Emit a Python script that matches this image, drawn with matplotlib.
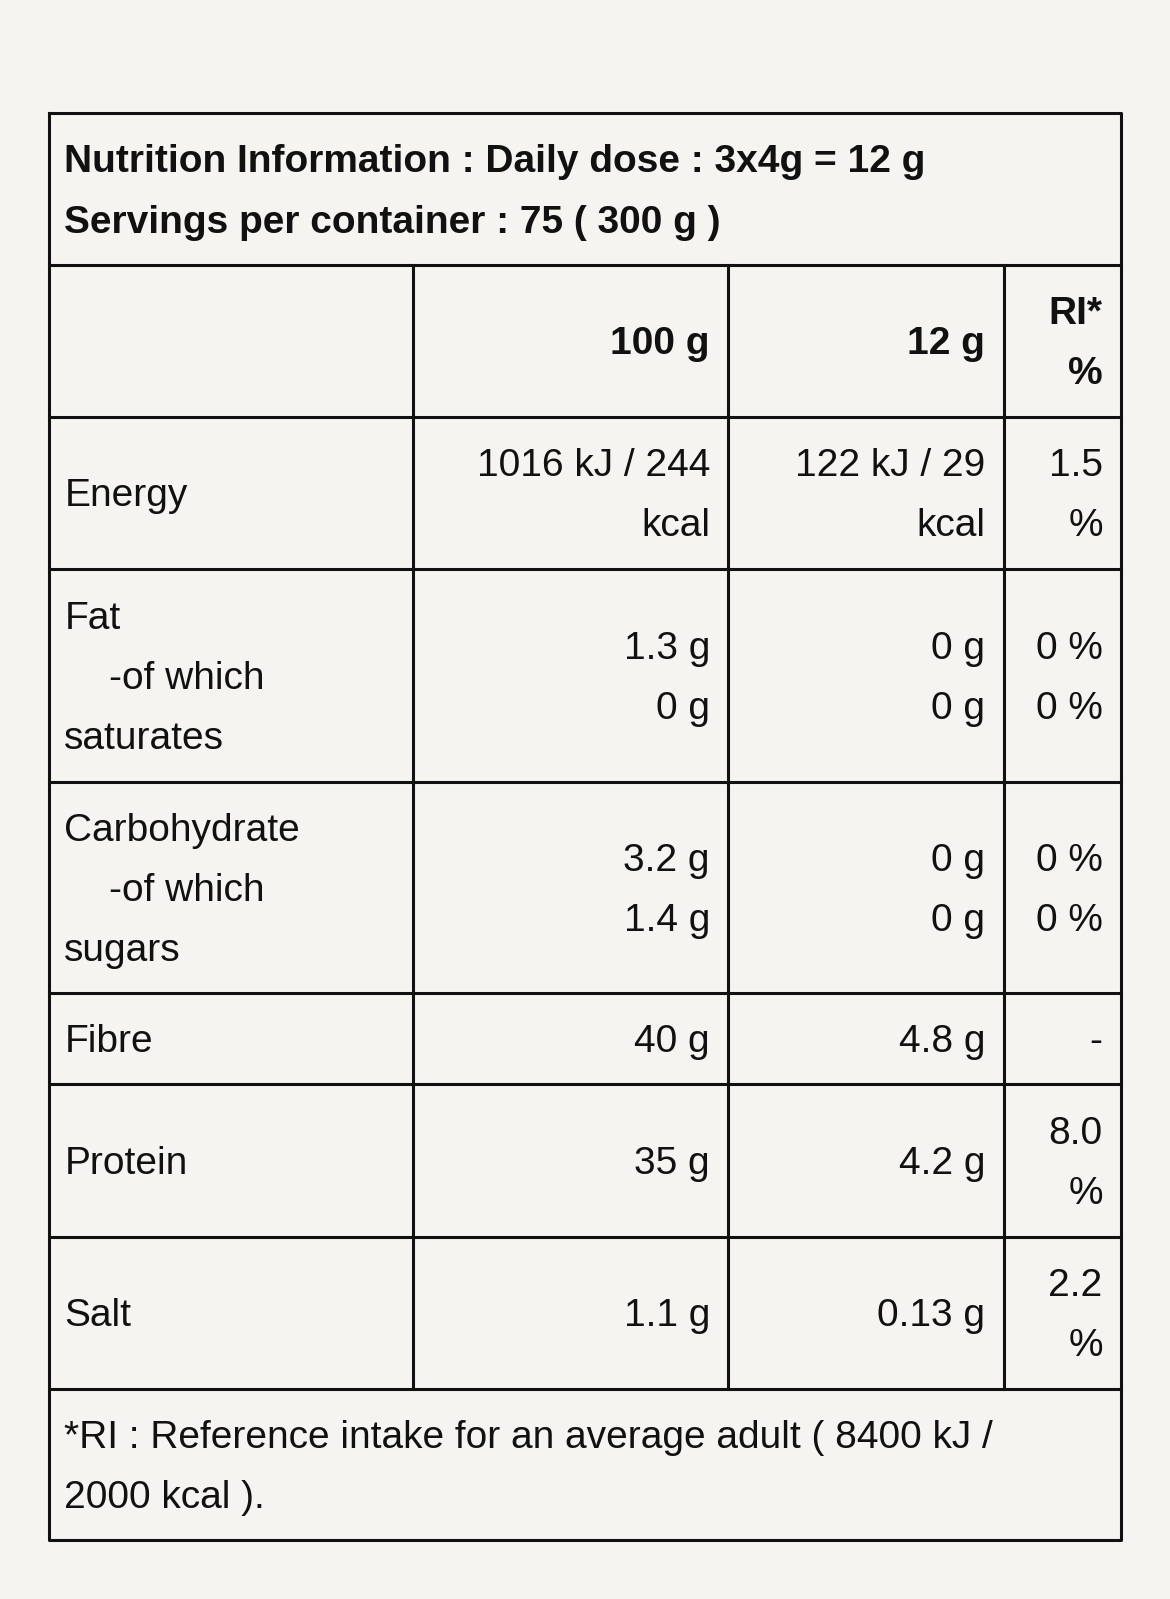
import matplotlib.pyplot as plt

plt.rcParams['font.family'] = ['Liberation Sans', 'DejaVu Sans']

# table content
title_lines = ["Nutrition Information : Daily dose : 3x4g = 12 g",
               "Servings per container : 75 ( 300 g )"]
header = ["", "100 g", "12 g", "RI*\n%"]
rows = [
    (["Energy"], ["1016 kJ / 244", "kcal"], ["122 kJ / 29", "kcal"], ["1.5", "%"]),
    (["Fat", "    -of which", "saturates"], ["1.3 g", "0 g"], ["0 g", "0 g"], ["0 %", "0 %"]),
    (["Carbohydrate", "    -of which", "sugars"], ["3.2 g", "1.4 g"], ["0 g", "0 g"], ["0 %", "0 %"]),
    (["Fibre"], ["40 g"], ["4.8 g"], ["-"]),
    (["Protein"], ["35 g"], ["4.2 g"], ["8.0", "%"]),
    (["Salt"], ["1.1 g"], ["0.13 g"], ["2.2", "%"]),
]
footer_lines = ["*RI : Reference intake for an average adult ( 8400 kJ /", "2000 kcal )."]

# layout in reference pixels
row_edges = [260, 409, 558, 767, 974, 1063, 1213, 1362]
col_edges = [48, 405, 714, 984, 1099]
col_right = [None, 696, 966, 1081]
left_x = 63
line_h = 59
fs = 28
bg = '#f5f4f0'

fig = plt.figure(figsize=(11.7, 15.99), dpi=100, facecolor=bg)
ax = fig.add_axes([0, 0, 1, 1])
ax.set_xlim(0, 1147)
ax.set_ylim(1568, 0)
ax.axis('off')
ax.set_facecolor(bg)

lw = 2.2
ax.plot([48, 1099, 1099, 48, 48], [111, 111, 1510, 1510, 111], color='#111', lw=lw)
for y in row_edges:
    ax.plot([48, 1099], [y, y], color='#111', lw=lw)
for x in col_edges[1:-1]:
    ax.plot([x, x], [260, 1362], color='#111', lw=lw)

def block(lines, x, ytop, ybot, ha, bold=False):
    n = len(lines)
    mid = (ytop + ybot) / 2
    first = mid - (n - 1) * line_h / 2 + 13
    for i, s in enumerate(lines):
        ax.text(x, first + i * line_h, s, ha=ha, va='baseline', fontsize=fs,
                fontweight='bold' if bold else 'normal', color='#111')

block(title_lines, left_x, 111, 260, 'left', bold=True)
block(["100 g"], col_right[1], 260, 409, 'right', bold=True)
block(["12 g"], col_right[2], 260, 409, 'right', bold=True)
block(["RI*", "%"], col_right[3], 260, 409, 'right', bold=True)

for r, (lab, v1, v2, v3) in enumerate(rows):
    yt, yb = row_edges[r + 1], row_edges[r + 2]
    n = len(lab)
    mid = (yt + yb) / 2
    first = mid - (n - 1) * line_h / 2 + 13
    for i, s in enumerate(lab):
        x = 107 if s.startswith("    ") else left_x
        ax.text(x, first + i * line_h, s.strip(), ha='left', va='baseline', fontsize=fs, color='#111')
    block(v1, col_right[1], yt, yb, 'right')
    block(v2, col_right[2], yt, yb, 'right')
    block(v3, col_right[3], yt, yb, 'right')

block(footer_lines, left_x, 1362, 1510, 'left')

fig.savefig('out.png', dpi=100, facecolor=bg)
